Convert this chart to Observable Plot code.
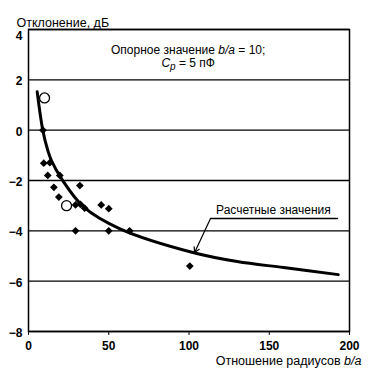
<!DOCTYPE html>
<html>
<head>
<meta charset="utf-8">
<script src="https://cdn.jsdelivr.net/npm/d3@7"></script>
<script src="https://cdn.jsdelivr.net/npm/@observablehq/plot@0.6"></script>
<style>
  html, body { margin: 0; padding: 0; background: #fff; }
  #chart svg { display: block; }
</style>
</head>
<body>
<div id="chart"></div>
<script>
const xTicks = [0, 50, 100, 150, 200];
const yTicks = [-8, -6, -4, -2, 0, 2, 4];

// measured points (filled diamonds)
const measX = [9, 9.5, 13.3, 12, 19.5, 15.8, 32, 18.9, 29.3, 32.4, 35, 45.3, 50, 29.3, 50, 63, 100.5];
const measY = [0, -1.31, -1.29, -1.8, -1.8, -2.27, -2.2, -2.66, -2.97, -2.95, -3.1, -2.97, -3.12, -4, -4, -4, -5.4];

// reference points (open circles)
const refX = [10, 23.7];
const refY = [1.28, -3.0];

// calculated curve
const curveX = [5.4, 8.9, 12, 14.3, 21, 34.5, 57, 103, 130, 159, 193];
const curveY = [1.53, 0, -0.8, -1.21, -1.97, -3.06, -3.92, -4.87, -5.22, -5.46, -5.74];

// annotation
const calcLabel = "Расчетные значения";
const calcLabelPos = [152.6, -3.19];
const calcLeaderX = [113.4, 192.5];
const calcLeaderY = -3.51;
const arrowTip = [103.5, -4.86];

const refLine1 = "Опорное значение b/a = 10;";
const refLine2 = "Cp = 5 пФ";
const refPos1 = [99.5, 3.16];
const refPos2 = [99.5, 2.66];

const yTitle = "Отклонение, дБ";
const xTitle = "Отношение радиусов b/a";

const meas = measX.map((x, i) => ({x, y: measY[i]}));
const refs = refX.map((x, i) => ({x, y: refY[i]}));
const curve = curveX.map((x, i) => ({x, y: curveY[i]}));

const yTop = yTicks.filter(v => v === 4);
const yRest = yTicks.filter(v => v !== 4);

const chart = Plot.plot({
  width: 369,
  height: 373,
  marginLeft: 28,
  marginRight: 20,
  marginTop: 29,
  marginBottom: 42,
  style: {fontFamily: "'Liberation Sans', Arial, sans-serif", fontSize: "12px", background: "#fff", color: "#000"},
  x: {domain: [0, 200]},
  y: {domain: [-8, 4]},
  marks: [
    Plot.gridY(yTicks, {stroke: "#000", strokeOpacity: 1, strokeWidth: 1.3}),
    Plot.frame({stroke: "#000", strokeWidth: 1.5}),
    Plot.axisX(xTicks, {tickSize: 4, tickPadding: 5.5, label: null, fontWeight: "bold", fontSize: 12, stroke: "#000"}),
    Plot.axisY(yRest, {tickSize: 0, tickPadding: 6, label: null, fontWeight: "bold", fontSize: 12, dy: 1.5}),
    Plot.axisY(yTop, {tickSize: 0, tickPadding: 6, label: null, fontWeight: "bold", fontSize: 12, dy: 7}),
    Plot.line(curve, {x: "x", y: "y", curve: "catmull-rom", stroke: "#000", strokeWidth: 3}),
    Plot.dot(meas, {x: "x", y: "y", symbol: "diamond2", r: 3.5, fill: "#000", stroke: "none"}),
    Plot.dot(refs, {x: "x", y: "y", r: 5, fill: "#fff", stroke: "#000", strokeWidth: 1.3}),
    Plot.line(calcLeaderX.map(x => ({x, y: calcLeaderY})), {x: "x", y: "y", stroke: "#000", strokeWidth: 1.3}),
    Plot.arrow([{x1: calcLeaderX[0], y1: calcLeaderY, x2: arrowTip[0], y2: arrowTip[1]}], {x1: "x1", y1: "y1", x2: "x2", y2: "y2", stroke: "#000", strokeWidth: 1.2, headLength: 7, bend: 0}),
    Plot.text([calcLabel], {x: calcLabelPos[0], y: calcLabelPos[1], text: d => d, fontSize: 12, fill: "#000"}),
    Plot.text([refLine1], {x: refPos1[0], y: refPos1[1], text: d => d, fontSize: 12, fill: "#000", className: "ref1"}),
    Plot.text([refLine2], {x: refPos2[0], y: refPos2[1], text: d => d, fontSize: 12, fill: "#000", className: "ref2"}),
    Plot.text([yTitle], {frameAnchor: "top-left", text: d => d, dx: -12, dy: -11, textAnchor: "start", fontSize: 12.5, fill: "#000"}),
    Plot.text([xTitle], {frameAnchor: "bottom-right", text: d => d, dx: 12, dy: 33, textAnchor: "end", fontSize: 12.5, fill: "#000", className: "xtitle"})
  ]
});

document.getElementById("chart").appendChild(chart);

// rich text: italics and subscript
function rich(cls, parts) {
  const t = chart.querySelector("g." + cls + " text");
  if (!t) return;
  while (t.firstChild) t.removeChild(t.firstChild);
  for (const p of parts) {
    const s = document.createElementNS("http://www.w3.org/2000/svg", "tspan");
    s.textContent = p.t;
    if (p.i) s.setAttribute("font-style", "italic");
    if (p.sub) { s.setAttribute("baseline-shift", "-25%"); s.setAttribute("font-size", "10"); }
    t.appendChild(s);
  }
}
rich("ref1", [{t: "Опорное значение "}, {t: "b/a", i: true}, {t: " = 10;"}]);
rich("ref2", [{t: "C", i: true}, {t: "p", i: true, sub: true}, {t: " = 5 пФ"}]);
rich("xtitle", [{t: "Отношение радиусов "}, {t: "b/a", i: true}]);
</script>
</body>
</html>
